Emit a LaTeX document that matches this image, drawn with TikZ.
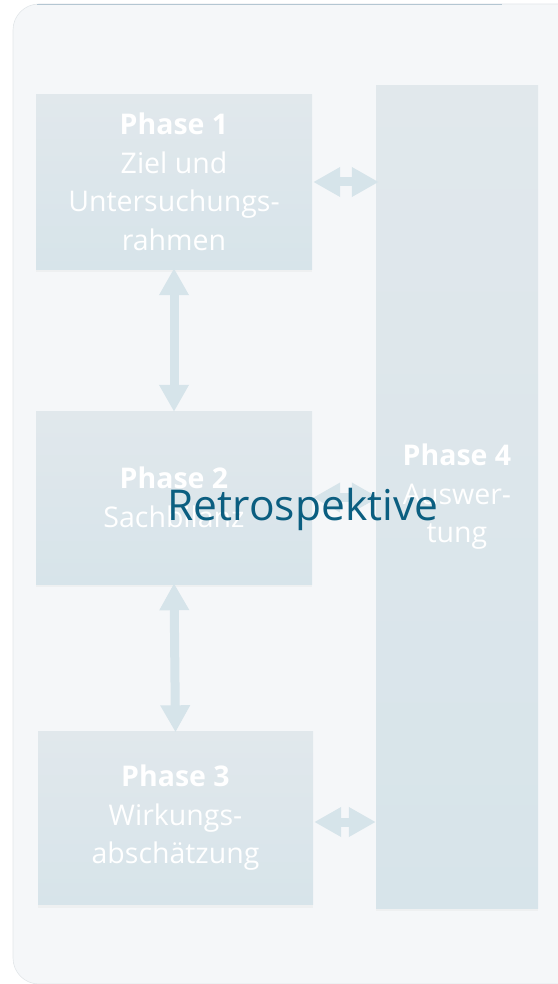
\documentclass[tikz,border=0pt]{standalone}
\usepackage{fontspec}
\setmainfont{Open Sans}
\usetikzlibrary{arrows.meta,shadows}
\definecolor{bgc}{HTML}{F5F7F9}
\definecolor{bgline}{HTML}{E2E6E9}
\definecolor{topc}{HTML}{B4C6D2}
\definecolor{boxtop}{HTML}{E1E8EC}
\definecolor{boxbot}{HTML}{D7E4EA}
\definecolor{arrc}{HTML}{D6E4EA}
\definecolor{retro}{HTML}{0B5E80}
\tikzset{
  phasebox/.style={top color=boxtop, bottom color=boxbot, draw=none,
    drop shadow={opacity=0.06, shadow xshift=0pt, shadow yshift=-3pt},
    text=white, align=center, inner sep=0pt,
    font=\fontsize{28.5}{38.5}\selectfont},
  dblarrow/.style={draw=arrc, line width=9pt,
    {Triangle[width=28pt,length=27pt]}-{Triangle[width=28pt,length=27pt]}}
}
\begin{document}
\begin{tikzpicture}[x=1pt,y=-1pt]
\useasboundingbox (0,0) rectangle (557,984);
\fill[bgc, draw=bgline, line width=0.6pt, rounded corners=26pt] (13,4) rectangle (590,984);
\draw[topc, line width=0.8pt] (37,4.4) -- (502,4.4);
\node[phasebox, minimum width=276pt, minimum height=174pt] (b1) at (174,182)
  {\textbf{Phase 1}\\Ziel und\\Untersuchungs-\\rahmen};
\node[phasebox, minimum width=276pt, minimum height=173pt] (b2) at (174,497.5)
  {\textbf{Phase 2}\\Sachbilanz};
\node[phasebox, minimum width=275pt, minimum height=173pt] (b3) at (175.5,818)
  {\textbf{Phase 3}\\Wirkungs-\\abschätzung};
\node[phasebox, minimum width=162pt, minimum height=822pt] (p4) at (457,497)
  {\textbf{Phase 4}\\Auswer-\\tung};
\draw[dblarrow] ([yshift=1pt]b1.south) -- ([yshift=-1pt]b2.north);
\draw[dblarrow] ([yshift=1pt]b2.south) -- ([yshift=-1pt]b3.north);
\draw[dblarrow] ([xshift=1pt]b1.east) -- ([xshift=3pt]b1.east -| p4.west);
\draw[dblarrow] ([xshift=1pt]b2.east) -- ([xshift=3pt]b2.east -| p4.west);
\draw[dblarrow] ([xshift=1pt,yshift=-4pt]b3.east) -- ([xshift=0pt,yshift=-4pt]b3.east -| p4.west);
\node[text=retro, font=\fontsize{42.5}{48}\selectfont, inner sep=0pt, anchor=base] (retro) at (303,520) {Retrospektive};
\end{tikzpicture}
\end{document}
